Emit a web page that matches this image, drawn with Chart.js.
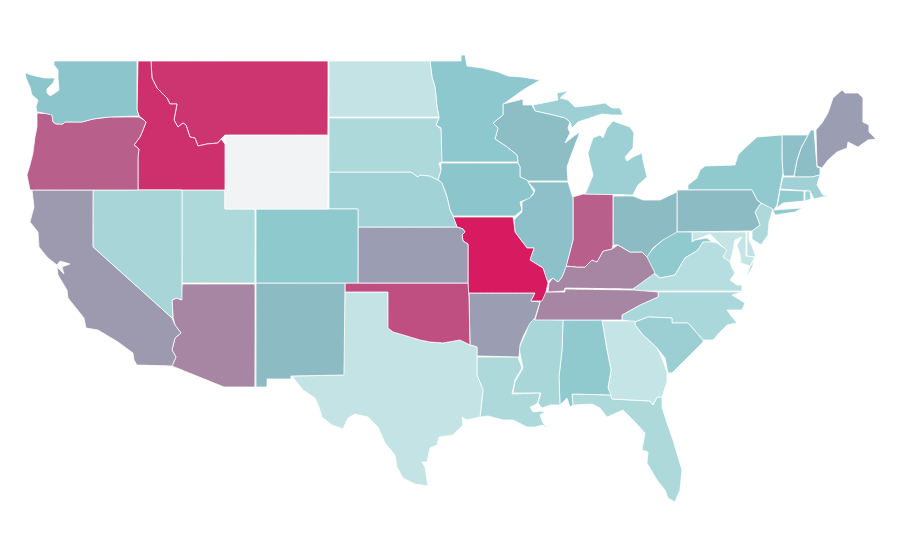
<!DOCTYPE html>
<html>
<head>
<meta charset="utf-8">
<title>US states</title>
<script src="https://cdn.jsdelivr.net/npm/chart.js@4"></script>
<style>
    html, body { margin: 0; background: #fff; }
    canvas { display: block; }
</style>
</head>
<body>
<canvas id="chart" width="900" height="560"></canvas>
<script>
var stateNames = ['Washington', 'Oregon', 'California', 'Nevada', 'Idaho', 'Montana', 'Wyoming', 'Utah', 'Arizona', 'Colorado',
    'New Mexico', 'North Dakota', 'South Dakota', 'Nebraska', 'Kansas', 'Oklahoma', 'Texas', 'Minnesota', 'Iowa', 'Missouri',
    'Arkansas', 'Louisiana', 'Wisconsin', 'Illinois', 'Michigan', 'Michigan (lower)', 'Indiana', 'Ohio', 'Kentucky', 'Tennessee',
    'Mississippi', 'Alabama', 'Georgia', 'Florida', 'South Carolina', 'North Carolina', 'Virginia', 'Virginia (shore)', 'West Virginia', 'Maryland',
    'Delaware', 'Pennsylvania', 'New Jersey', 'New York', 'Connecticut', 'Rhode Island', 'Massachusetts', 'Vermont', 'New Hampshire', 'Maine']

var stateValues = [32, 74, 52, 16, 92, 90, null, 12, 59, 29,
    40, 1, 12, 19, 50, 80, 1, 30, 32, 100,
    50, 12, 38, 36, 21, 21, 74, 40, 59, 59,
    15, 28, 0, 12, 22, 14, 8, 8, 28, 0,
    3, 40, 12, 28, 27, 20, 20, 36, 38, 50]

// outlines, in map units
var stateShapes = [
    [[54,61],[137,61],[137,110],[139,116],[109,117],[93,119],[82,122],[65,122],[63,124],[56,124],[53,122],[52,115],[43,113],[37,112],[36,107],[38,100],[32,95],[30,87],[26,78],[25,73],[35,76],[45,78],[55,78],[53,83],[47,89],[47,93],[50,96],[55,93],[59,90],[58,78],[58,70],[54,65]],
    [[37,113],[52,114],[53,122],[56,124],[63,124],[65,122],[82,122],[93,119],[109,117],[139,117],[144,120],[146,122],[143,130],[140,137],[134,145],[139,149],[138,157],[138,190],[30,190],[28,180],[27,175],[30,165],[33,153],[35,137],[37,127]],
    [[32,190],[93,190],[93,247],[172,318],[175,325],[181,333],[175,338],[172,350],[176,357],[172,366],[137,365],[134,360],[133,353],[118,342],[108,336],[98,330],[86,328],[84,318],[68,298],[67,290],[58,275],[57,267],[64,274],[62,267],[70,264],[60,261],[57,265],[48,258],[39,247],[38,232],[30,222],[34,207]],
    [[93,190],[182,190],[182,300],[177,298],[172,300],[173,317],[172,318],[93,247]],
    [[138,61],[151,61],[152,78],[157,88],[167,98],[170,104],[177,104],[174,120],[178,127],[183,123],[186,125],[190,137],[195,138],[198,146],[207,144],[218,143],[221,139],[225,144],[225,190],[138,190],[138,157],[139,149],[134,145],[140,137],[143,130],[146,122],[144,120],[139,116],[137,110]],
    [[151,61],[328,61],[328,135],[225,135],[221,139],[218,143],[207,144],[198,146],[195,138],[190,137],[186,125],[183,123],[178,127],[174,120],[177,104],[170,104],[167,98],[157,88],[152,78]],
    [[225,135],[328,135],[328,209],[225,209]],
    [[182,190],[225,190],[225,209],[255,209],[255,283],[182,283]],
    [[182,284],[255,284],[255,387],[224,387],[172,366],[176,357],[172,350],[175,338],[181,333],[175,325],[173,317],[172,300],[177,298],[181,300]],
    [[256,209],[358,209],[358,283],[256,283]],
    [[256,283],[345,283],[344,375],[291,376],[291,379],[267,379],[267,387],[256,387]],
    [[329,61],[430,61],[432,77],[435,87],[437,107],[439,117],[329,117]],
    [[329,118],[439,118],[438,120],[436,125],[441,129],[442,162],[439,163],[441,170],[438,180],[430,176],[420,175],[418,177],[411,172],[329,172]],
    [[329,172],[411,172],[418,177],[420,175],[430,176],[438,180],[442,183],[447,197],[450,210],[453,216],[457,227],[358,227],[358,209],[329,209]],
    [[358,227],[457,227],[463,229],[465,232],[462,235],[463,241],[468,244],[468,283],[358,283]],
    [[345,283],[468,283],[469,297],[470,345],[460,340],[443,343],[430,342],[420,340],[410,337],[400,334],[393,332],[388,328],[388,292],[345,292]],
    [[345,292],[388,292],[388,328],[393,332],[400,334],[410,337],[420,340],[430,342],[443,343],[460,340],[470,345],[477,347],[477,375],[483,390],[480,417],[467,420],[462,417],[463,425],[453,435],[439,437],[437,445],[430,448],[427,462],[422,462],[425,467],[428,486],[415,484],[403,478],[397,467],[395,455],[385,443],[378,427],[368,417],[355,414],[348,418],[343,429],[332,425],[322,417],[319,407],[315,398],[303,390],[292,376],[343,375]],
    [[430,61],[461,61],[461,55],[465,55],[467,66],[482,68],[498,72],[508,76],[522,77],[540,80],[523,90],[505,103],[503,104],[503,115],[493,123],[498,128],[495,139],[507,147],[517,155],[518,162],[441,162],[441,128],[436,125],[439,118],[439,117],[437,107],[435,87],[432,77]],
    [[441,163],[518,163],[520,167],[520,177],[527,180],[534,192],[530,198],[520,202],[522,210],[515,216],[453,216],[450,210],[447,197],[442,183],[438,180],[441,170]],
    [[453,217],[513,217],[514,223],[515,232],[527,248],[534,248],[530,260],[543,268],[548,283],[546,292],[542,301],[531,301],[535,293],[468,293],[468,244],[463,241],[462,235],[465,232],[463,229],[457,227]],
    [[469,293],[535,293],[531,301],[540,302],[535,318],[530,323],[523,337],[520,345],[519,357],[477,356],[477,347],[470,345],[469,297]],
    [[477,357],[518,357],[522,368],[515,380],[512,394],[540,393],[538,402],[535,405],[530,407],[533,412],[541,411],[545,412],[540,415],[543,423],[549,429],[543,425],[535,427],[527,427],[513,420],[503,420],[488,416],[480,417],[483,390],[477,375]],
    [[503,104],[503,115],[493,123],[498,128],[495,139],[507,147],[517,155],[518,163],[520,167],[520,177],[528,181],[568,181],[567,167],[572,153],[575,145],[580,132],[574,136],[565,143],[570,133],[568,128],[570,122],[565,118],[553,115],[535,111],[532,105],[523,105],[523,99]],
    [[528,182],[568,182],[573,198],[573,240],[566,267],[562,277],[558,282],[553,278],[547,282],[543,268],[530,260],[534,248],[527,248],[515,232],[514,220],[522,212],[522,202],[533,195],[535,190]],
    [[533,105],[558,100],[557,93],[568,91],[560,98],[568,100],[575,107],[593,105],[605,103],[612,108],[620,108],[623,115],[612,115],[602,114],[590,118],[578,122],[572,128],[570,122],[565,118],[553,115],[535,111]],
    [[585,194],[633,195],[638,185],[647,177],[643,160],[642,153],[633,157],[627,161],[625,157],[633,148],[634,133],[630,127],[613,121],[607,128],[603,138],[600,135],[593,138],[588,153],[590,163],[593,175],[587,190]],
    [[573,197],[583,194],[613,194],[613,245],[612,249],[603,251],[597,262],[592,260],[585,267],[577,267],[566,266],[573,240]],
    [[613,196],[633,196],[643,200],[660,200],[677,192],[677,232],[663,240],[653,248],[647,257],[642,252],[630,252],[618,245],[613,245]],
    [[553,278],[558,282],[562,277],[566,266],[577,267],[585,267],[592,260],[597,262],[603,251],[612,249],[618,245],[630,252],[642,252],[647,257],[655,273],[633,289],[565,288],[564,291],[548,292],[549,283]],
    [[543,292],[565,292],[565,289],[633,290],[658,292],[658,297],[640,305],[622,315],[622,320],[535,320],[540,302]],
    [[527,319],[563,320],[562,350],[559,377],[560,405],[550,405],[542,408],[538,403],[541,393],[513,393],[515,382],[523,368],[519,348],[527,330]],
    [[563,320],[602,320],[607,350],[611,370],[608,388],[611,395],[572,394],[573,405],[570,407],[567,398],[560,405],[559,377],[562,350]],
    [[602,321],[635,321],[635,325],[643,335],[657,348],[662,358],[667,372],[667,382],[662,397],[657,397],[653,405],[650,401],[612,399],[608,388],[611,370],[607,350]],
    [[572,394],[611,395],[612,399],[650,401],[653,405],[657,397],[662,397],[662,407],[667,423],[673,440],[682,470],[680,490],[675,502],[668,498],[665,490],[657,480],[647,463],[648,452],[642,450],[645,433],[635,422],[623,410],[607,417],[600,408],[592,404],[575,405],[573,405]],
    [[635,322],[648,317],[672,318],[672,323],[688,323],[703,340],[703,342],[695,350],[685,360],[672,373],[668,373],[665,358],[657,348],[643,335],[635,325]],
    [[658,292],[742,292],[732,295],[745,303],[742,310],[727,310],[732,317],[737,323],[727,325],[720,332],[713,340],[703,340],[688,323],[672,323],[672,318],[648,317],[635,322],[622,320],[622,315],[640,305],[658,297]],
    [[633,289],[653,273],[660,278],[675,275],[685,258],[690,255],[698,250],[703,242],[712,242],[717,243],[727,250],[723,257],[730,262],[732,268],[735,273],[730,280],[737,285],[742,285],[742,291],[633,291]],
    [[750,267],[755,258],[752,268],[746,278]],
    [[675,217],[677,232],[692,232],[692,242],[695,240],[707,238],[712,242],[703,242],[698,250],[690,255],[685,258],[675,275],[660,278],[653,272],[645,258],[652,250],[657,245],[665,238],[673,230]],
    [[692,232],[746,232],[746,256],[755,257],[750,266],[741,263],[740,254],[737,245],[742,237],[735,240],[732,255],[730,262],[723,257],[726,250],[721,245],[716,240],[710,234],[700,238],[695,240],[692,242]],
    [[747,232],[749,231],[749,240],[752,246],[756,257],[747,256]],
    [[677,190],[752,190],[757,200],[761,203],[755,212],[760,225],[752,231],[677,232]],
    [[761,203],[773,209],[769,222],[768,235],[761,245],[752,239],[752,231],[760,225],[755,212]],
    [[688,190],[688,185],[697,178],[700,170],[705,166],[735,165],[738,155],[745,148],[757,137],[782,135],[782,143],[782,160],[783,173],[780,188],[777,205],[774,210],[802,208],[795,212],[775,215],[773,210],[761,203],[757,200],[752,190]],
    [[780,190],[804,191],[804,201],[783,203],[777,208]],
    [[805,191],[810,191],[811,199],[805,201]],
    [[783,177],[812,177],[820,175],[817,185],[823,195],[830,196],[822,197],[814,199],[810,191],[780,189]],
    [[782,135],[808,135],[801,148],[797,160],[794,176],[784,176],[783,173],[782,160]],
    [[808,135],[811,130],[814,130],[817,167],[820,168],[820,175],[812,177],[794,177],[797,160],[801,148]],
    [[816,130],[822,123],[828,113],[833,98],[842,90],[845,93],[858,93],[863,98],[863,122],[869,125],[869,132],[876,139],[868,140],[858,147],[848,142],[847,148],[837,152],[828,160],[822,168],[817,166]]
]

var rampStops = [0, 30, 40, 50, 100]
var rampColors = [[197, 228, 229], [140, 200, 205], [141, 187, 196], [155, 158, 178], [216, 27, 96]]

function valueColor(value) {
    if (value === null) { return '#f2f3f5' }
    for (var i = 1; i < rampStops.length; i++) {
        if (value <= rampStops[i]) {
            var t = (value - rampStops[i - 1]) / (rampStops[i] - rampStops[i - 1])
            var rgb = rampColors[i].map((c, k) => Math.round(rampColors[i - 1][k] + (c - rampColors[i - 1][k]) * t))
            return `rgb(${rgb.join(',')})`
        }
    }
}

function loadChart() {
    var datasets = stateNames.map((name, i) => {
        var points = stateShapes[i].map(p => ({ x: p[0], y: p[1] }))
        points.push(points[0])
        return {
            label: name,
            data: points,
            showLine: true,
            fill: 'shape',
            tension: 0.001,
            pointRadius: 0,
            backgroundColor: valueColor(stateValues[i]),
            borderColor: '#ffffff',
            borderWidth: 0.8
        }
    })

    var ctx = document.getElementById('chart').getContext('2d')
    new Chart(ctx, {
        type: 'scatter',
        data: { datasets: datasets },
        options: {
            responsive: false,
            animation: false,
            layout: { padding: 0 },
            plugins: {
                legend: { display: false },
                tooltip: { enabled: false }
            },
            scales: {
                x: { type: 'linear', min: 0, max: 900, display: false },
                y: { type: 'linear', min: 0, max: 560, reverse: true, display: false }
            }
        }
    })
}

document.addEventListener("DOMContentLoaded", () => {
    loadChart()
})
</script>
</body>
</html>
